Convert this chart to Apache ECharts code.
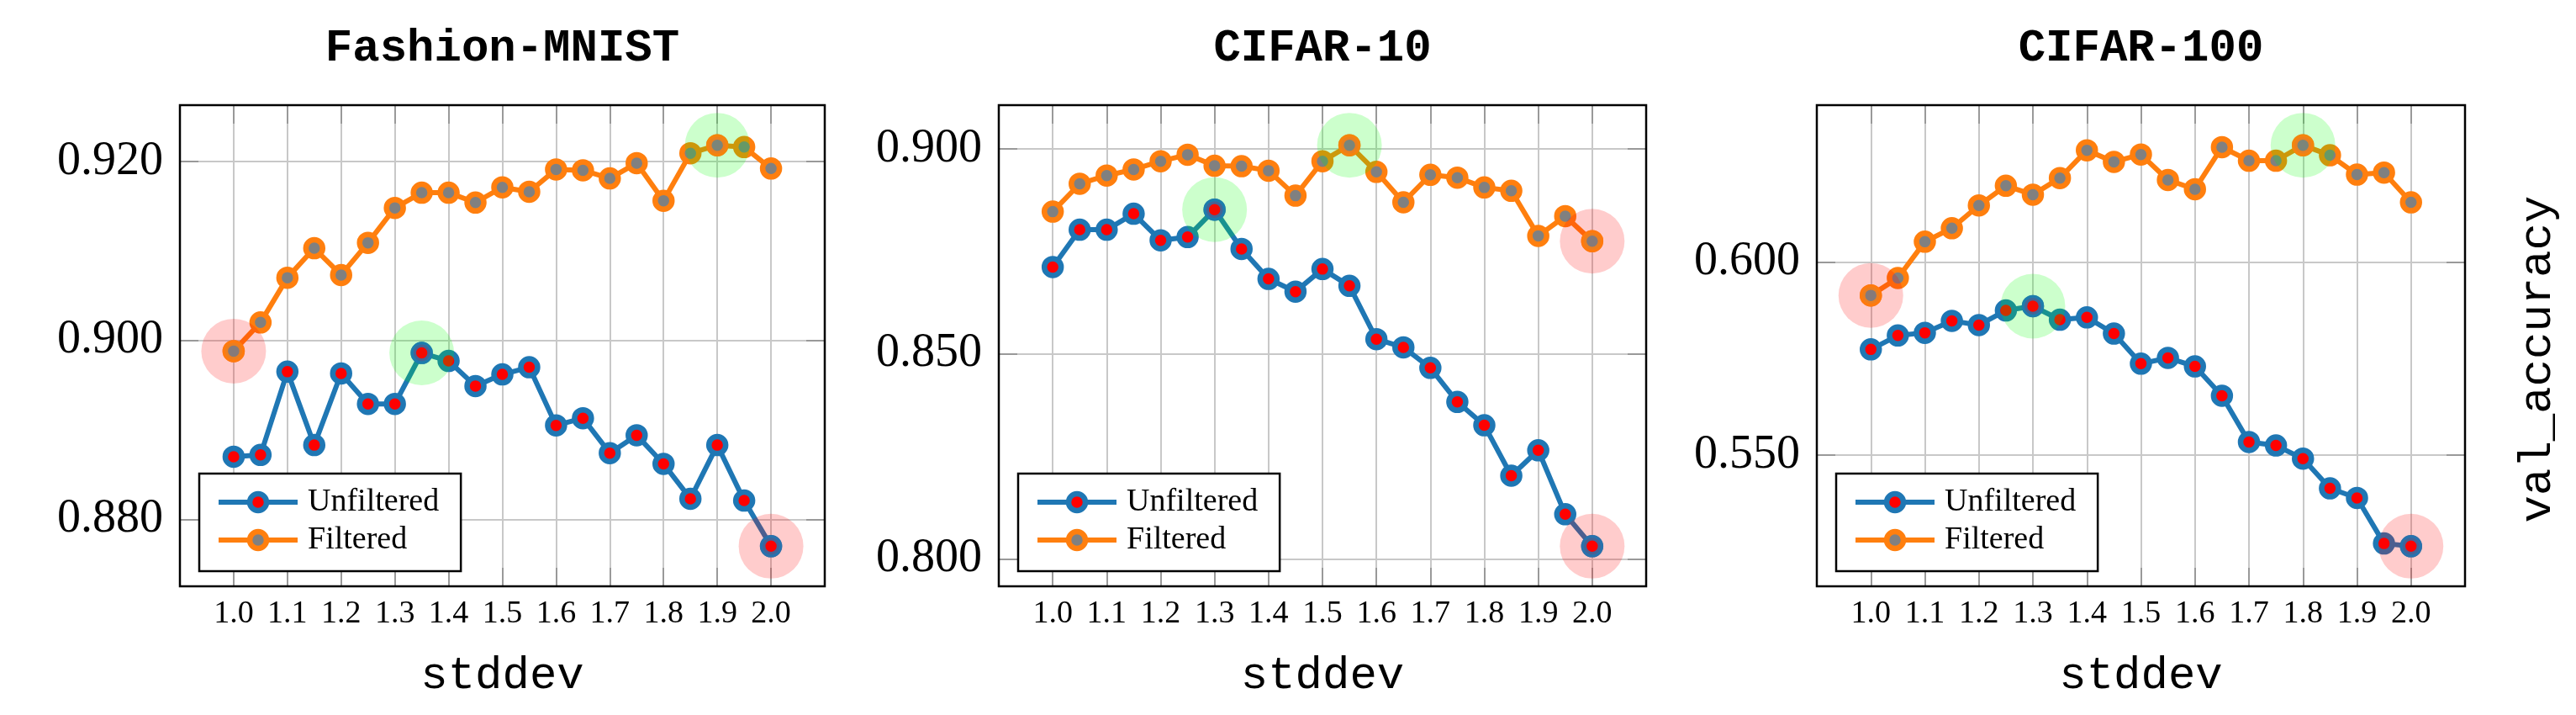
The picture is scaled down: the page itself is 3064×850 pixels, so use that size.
<!DOCTYPE html>
<html>
<head>
<meta charset="utf-8">
<script src="https://cdn.jsdelivr.net/npm/echarts@6/dist/echarts.min.js"></script>
<style>
html,body{margin:0;padding:0;background:#fff;}
#c{width:3064px;height:850px;}
</style>
</head>
<body>
<div id="c"></div>
<script>
// ---- data ----
const stddev = [1.00, 1.05, 1.10, 1.15, 1.20, 1.25, 1.30, 1.35, 1.40, 1.45, 1.50,
                1.55, 1.60, 1.65, 1.70, 1.75, 1.80, 1.85, 1.90, 1.95, 2.00];
const titles = ['Fashion-MNIST', 'CIFAR-10', 'CIFAR-100'];
const seriesNames = ['Unfiltered', 'Filtered'];
const fmnistUnfiltered = [0.8870, 0.8872, 0.8965, 0.8883, 0.8963, 0.8929, 0.8929, 0.8986, 0.8977, 0.8949, 0.8962,
                          0.8970, 0.8905, 0.8913, 0.8874, 0.8894, 0.8862, 0.8823, 0.8883, 0.8821, 0.8770];
const fmnistFiltered   = [0.8988, 0.9020, 0.9070, 0.9103, 0.9073, 0.9109, 0.9148, 0.9165, 0.9165, 0.9154, 0.9171,
                          0.9166, 0.9191, 0.9190, 0.9181, 0.9198, 0.9156, 0.9209, 0.9218, 0.9216, 0.9192];
const cifar10Unfiltered = [0.8712, 0.8803, 0.8803, 0.8842, 0.8777, 0.8785, 0.8852, 0.8756, 0.8683, 0.8652, 0.8707,
                           0.8666, 0.8536, 0.8516, 0.8466, 0.8383, 0.8326, 0.8203, 0.8265, 0.8109, 0.8031];
const cifar10Filtered   = [0.8847, 0.8915, 0.8935, 0.8950, 0.8970, 0.8986, 0.8959, 0.8958, 0.8947, 0.8886, 0.8970,
                           0.9009, 0.8944, 0.8870, 0.8937, 0.8930, 0.8906, 0.8898, 0.8788, 0.8836, 0.8775];
const cifar100Unfiltered = [0.5774, 0.5810, 0.5817, 0.5848, 0.5837, 0.5875, 0.5886, 0.5851, 0.5857, 0.5815, 0.5737,
                            0.5752, 0.5730, 0.5654, 0.5534, 0.5525, 0.5491, 0.5414, 0.5389, 0.5271, 0.5264];
const cifar100Filtered   = [0.5914, 0.5959, 0.6053, 0.6088, 0.6147, 0.6198, 0.6175, 0.6218, 0.6290, 0.6260, 0.6279,
                            0.6213, 0.6189, 0.6298, 0.6263, 0.6263, 0.6303, 0.6277, 0.6227, 0.6232, 0.6155];
const yTickStep = [0.02, 0.05, 0.05];
const xTickStep = 0.1;
const xMin = 0.9, xMax = 2.1;

// ---- layout / style ----
const SERIF = "'Liberation Serif','Times New Roman',serif";
const MONO = "'Liberation Mono','Courier New',monospace";
const BLUE = '#1f77b4', ORANGE = '#ff7f0e', RED = '#ff0000', GREY = '#808080';
const PINK_HL = 'rgba(255,0,0,0.25)', GREEN_HL = 'rgba(0,255,0,0.25)';
const TOP = 125, H = 572;
const layout = [
  {left: 214, width: 767},
  {left: 1188, width: 770},
  {left: 2161, width: 771}
];
const panelData = [
  [fmnistUnfiltered, fmnistFiltered],
  [cifar10Unfiltered, cifar10Filtered],
  [cifar100Unfiltered, cifar100Filtered]
];
const markerStyle = [
  {color: RED, borderColor: BLUE, borderWidth: 6.5},
  {color: GREY, borderColor: ORANGE, borderWidth: 6.5}
];
const lineColor = [BLUE, ORANGE];
const LINE_W = 6;

const grids = [], xAxes = [], yAxes = [], series = [], legends = [], graphics = [];
const tickStyle = {inside: true, length: 22, lineStyle: {color: '#999999', width: 2}};
const splitStyle = {show: true, lineStyle: {color: '#c8c8c8', width: 2}};

function argOf(arr, cmp) {
  let k = 0;
  for (let i = 1; i < arr.length; i++) if (cmp(arr[i], arr[k])) k = i;
  return k;
}

panelData.forEach((pair, p) => {
  const L = layout[p];
  grids.push({left: L.left, top: TOP, width: L.width, height: H, show: false, containLabel: false});
  const all = pair[0].concat(pair[1]);
  const dmin = Math.min(...all), dmax = Math.max(...all);
  const pad = (dmax - dmin) * 0.1;
  const yMin = dmin - pad, yMax = dmax + pad;
  const step = yTickStep[p];

  xAxes.push({
    type: 'value', gridIndex: p, position: 'bottom', min: xMin, max: xMax, interval: xTickStep,
    axisLine: {show: false}, axisTick: tickStyle, splitLine: splitStyle,
    axisLabel: {fontFamily: SERIF, fontSize: 38, color: '#000', margin: 14,
                showMinLabel: false, showMaxLabel: false, formatter: v => v.toFixed(1)},
    name: 'stddev', nameLocation: 'middle', nameGap: 80,
    nameTextStyle: {fontFamily: MONO, fontSize: 54, color: '#000'}
  });
  xAxes.push({
    type: 'value', gridIndex: p, position: 'top', min: xMin, max: xMax, interval: xTickStep,
    axisLine: {show: false}, axisTick: tickStyle, splitLine: {show: false}, axisLabel: {show: false}
  });
  yAxes.push({
    type: 'value', gridIndex: p, position: 'left', min: yMin, max: yMax,
    minInterval: step, maxInterval: step, splitNumber: 3,
    axisLine: {show: false}, axisTick: tickStyle, splitLine: splitStyle,
    axisLabel: {fontFamily: SERIF, fontSize: 56, color: '#000', margin: 20,
                showMinLabel: false, showMaxLabel: false, formatter: v => v.toFixed(3)}
  });
  yAxes.push({
    type: 'value', gridIndex: p, position: 'right', min: yMin, max: yMax,
    minInterval: step, maxInterval: step, splitNumber: 3,
    axisLine: {show: false}, axisTick: tickStyle, splitLine: {show: false}, axisLabel: {show: false}
  });

  const xi = 2 * p, yi = 2 * p;
  const hl = [];
  const centers = [[], []];
  pair.forEach((vals, s) => {
    series.push({
      type: 'line', name: seriesNames[s], xAxisIndex: xi, yAxisIndex: yi, z: 2,
      data: stddev.map((x, i) => [x, vals[i]]),
      symbol: 'circle', symbolSize: 20, showSymbol: true,
      itemStyle: markerStyle[s], lineStyle: {color: lineColor[s], width: LINE_W},
      emphasis: {disabled: true}, animation: false
    });
    const iMax = argOf(vals, (a, b) => a > b);
    const iMin = argOf(vals, (a, b) => a < b);
    hl.push({value: [stddev[iMax], vals[iMax]], itemStyle: {color: GREEN_HL}});
    hl.push({value: [stddev[iMin], vals[iMin]], itemStyle: {color: PINK_HL}});
    centers[s].push([stddev[iMax], vals[iMax]], [stddev[iMin], vals[iMin]]);
  });
  series.push({
    type: 'scatter', name: 'highlight', xAxisIndex: xi, yAxisIndex: yi, z: 3, silent: true,
    symbol: 'circle', symbolSize: 77, data: hl, animation: false
  });
  centers.forEach((pts, s) => {
    series.push({
      type: 'scatter', name: seriesNames[s] + ' best/worst', xAxisIndex: xi, yAxisIndex: yi, z: 4, silent: true,
      symbol: 'circle', symbolSize: 20, itemStyle: markerStyle[s], data: pts, animation: false
    });
  });

  legends.push({
    left: L.left + 23, top: 563, orient: 'vertical', data: seriesNames, selectedMode: false,
    itemWidth: 94, itemHeight: 25, itemGap: 7, padding: [15, 26, 18, 20],
    borderColor: '#000', borderWidth: 2.5, borderRadius: 0, backgroundColor: '#fff',
    itemStyle: {borderWidth: 6.5}, lineStyle: {width: LINE_W},
    textStyle: {fontFamily: SERIF, fontSize: 38, color: '#000', padding: [0, 0, 0, 7]},
    z: 10
  });

  graphics.push({
    type: 'text', x: L.left + L.width / 2, y: 58, z: 20,
    style: {text: titles[p], font: "bold 54px " + MONO, fill: '#000', textAlign: 'center', textVerticalAlign: 'middle'}
  });
  graphics.push({
    type: 'rect', z: 100, silent: true,
    shape: {x: L.left, y: TOP, width: L.width, height: H},
    style: {fill: 'none', stroke: '#000', lineWidth: 2.5}
  });
});

graphics.push({
  type: 'text', x: 3019, y: 427, rotation: Math.PI / 2, z: 20,
  style: {text: 'val_accuracy', font: "54px " + MONO, fill: '#000', textAlign: 'center', textVerticalAlign: 'middle'}
});

const chart = echarts.init(document.getElementById('c'), null, {renderer: 'canvas'});
chart.setOption({
  animation: false,
  backgroundColor: '#fff',
  grid: grids, xAxis: xAxes, yAxis: yAxes, series: series, legend: legends, graphic: graphics
});
</script>
</body>
</html>
